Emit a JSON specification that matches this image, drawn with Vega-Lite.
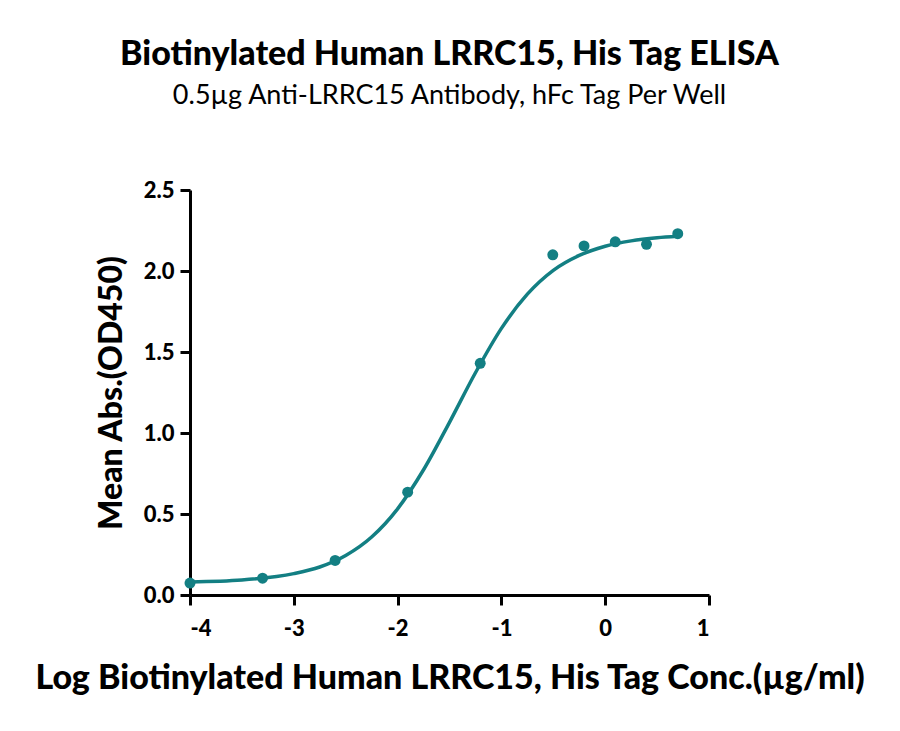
{
  "$schema": "https://vega.github.io/schema/vega-lite/v6.json",
  "autosize": "none",
  "width": 519,
  "height": 405,
  "padding": {"left": 190, "top": 190, "right": 191, "bottom": 136},
  "background": "white",
  "config": {
    "view": {"stroke": null},
    "font": "Lato",
    "axis": {
      "grid": false,
      "domainColor": "black",
      "domainWidth": 3,
      "tickColor": "black",
      "tickWidth": 3,
      "tickSize": 10,
      "labelColor": "black",
      "labelFont": "Lato",
      "labelFontWeight": 900,
      "labelFontSize": 22,
      "titleColor": "black",
      "titleFont": "Lato",
      "titleFontWeight": 900
    }
  },
  "title": {
    "text": "Biotinylated Human LRRC15, His Tag ELISA",
    "subtitle": "0.5µg Anti-LRRC15 Antibody, hFc Tag Per Well",
    "font": "Lato",
    "fontSize": 34,
    "fontWeight": 900,
    "color": "black",
    "subtitleFont": "Lato",
    "subtitleFontSize": 27,
    "subtitleColor": "black",
    "subtitlePadding": 11,
    "anchor": "middle",
    "offset": 70
  },
  "datasets": {
    "points": [
      {"logConc": -4.0, "od": 0.074},
      {"logConc": -3.301, "od": 0.104},
      {"logConc": -2.602, "od": 0.213},
      {"logConc": -1.903, "od": 0.635},
      {"logConc": -1.204, "od": 1.43},
      {"logConc": -0.505, "od": 2.10},
      {"logConc": -0.204, "od": 2.155},
      {"logConc": 0.097, "od": 2.18},
      {"logConc": 0.398, "od": 2.165},
      {"logConc": 0.699, "od": 2.23}
    ],
    "curve": [
      {"logConc": -4.0, "od": 0.081},
      {"logConc": -3.5, "od": 0.093},
      {"logConc": -3.0, "od": 0.132},
      {"logConc": -2.75, "od": 0.173},
      {"logConc": -2.5, "od": 0.244},
      {"logConc": -2.25, "od": 0.358},
      {"logConc": -2.0, "od": 0.532},
      {"logConc": -1.75, "od": 0.773},
      {"logConc": -1.5, "od": 1.066},
      {"logConc": -1.25, "od": 1.372},
      {"logConc": -1.0, "od": 1.646},
      {"logConc": -0.75, "od": 1.857},
      {"logConc": -0.5, "od": 2.004},
      {"logConc": -0.25, "od": 2.096},
      {"logConc": 0.0, "od": 2.153},
      {"logConc": 0.25, "od": 2.186},
      {"logConc": 0.5, "od": 2.205},
      {"logConc": 0.699, "od": 2.214}
    ]
  },
  "encoding": {
    "x": {
      "field": "logConc",
      "type": "quantitative",
      "scale": {"domain": [-4, 1], "nice": false, "zero": false},
      "axis": {
        "values": [-4, -3, -2, -1, 0, 1],
        "labelExpr": "datum.value < 0 ? '-' + abs(datum.value) : '' + datum.value",
        "labelPadding": 13,
        "title": "Log Biotinylated Human LRRC15, His Tag Conc.(µg/ml)",
        "titleFontSize": 34,
        "titlePadding": 22
      }
    },
    "y": {
      "field": "od",
      "type": "quantitative",
      "scale": {"domain": [0, 2.5], "nice": false},
      "axis": {
        "values": [0, 0.5, 1, 1.5, 2, 2.5],
        "format": ".1f",
        "labelPadding": 6,
        "title": "Mean Abs.(OD450)",
        "titleFontSize": 32,
        "titlePadding": 15
      }
    }
  },
  "layer": [
    {
      "data": {"name": "curve"},
      "mark": {"type": "line", "interpolate": "monotone", "color": "#137F83", "strokeWidth": 3.5}
    },
    {
      "data": {"name": "points"},
      "mark": {"type": "point", "filled": true, "opacity": 1, "size": 120, "color": "#137F83"}
    }
  ]
}
